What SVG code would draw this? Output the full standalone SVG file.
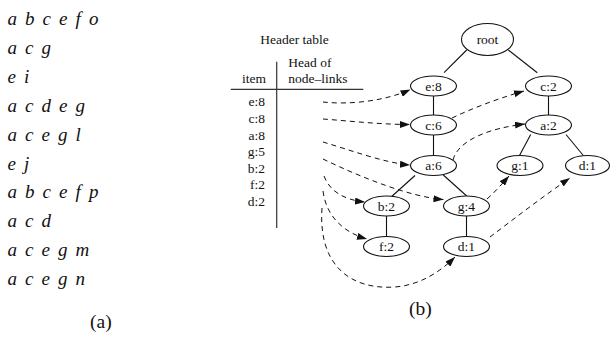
<svg xmlns="http://www.w3.org/2000/svg" width="612" height="345" viewBox="0 0 612 345">
<style>
.tx{font-size:13.5px;fill:#111}
.it{font-style:italic;font-size:19px;word-spacing:3.3px;fill:#111}
.cap{font-size:19.5px;fill:#111}
.nd ellipse{fill:#fff;stroke:#111;stroke-width:1.1}
.nd text{text-anchor:middle}
.ed{stroke:#111;stroke-width:1.1;fill:none}
.dl{stroke:#111;stroke-width:1;fill:none;stroke-dasharray:5,4;marker-end:url(#ah)}
.tl{stroke:#333;stroke-width:1.2}
</style>
<defs>
<marker id="ah" markerUnits="userSpaceOnUse" markerWidth="10" markerHeight="7" refX="10" refY="3.5" orient="auto">
<path d="M0,0 L10,3.5 L0,7 z" fill="#111"/>
</marker>
</defs>
<rect width="612" height="345" fill="#fff"/>
<g font-family="'Liberation Serif', 'Times New Roman', 'DejaVu Serif', serif">
<g id="transactions">
<text class="it" x="7.5" y="25">a b c e f o</text>
<text class="it" x="7.5" y="53.9">a c g</text>
<text class="it" x="7.5" y="82.8">e i</text>
<text class="it" x="7.5" y="111.7">a c d e g</text>
<text class="it" x="7.5" y="140.6">a c e g l</text>
<text class="it" x="7.5" y="169.5">e j</text>
<text class="it" x="7.5" y="198.4">a b c e f p</text>
<text class="it" x="7.5" y="227.3">a c d</text>
<text class="it" x="7.5" y="256.2">a c e g m</text>
<text class="it" x="7.5" y="285">a c e g n</text>
<text class="cap" x="90" y="328">(a)</text>
</g>
<g id="header-table">
<text class="tx" x="294.5" y="44" text-anchor="middle">Header table</text>
<text class="tx" x="288.3" y="66.7">Head of</text>
<text class="tx" x="288.3" y="83.3">node–links</text>
<text class="tx" x="254" y="83.3" text-anchor="middle">item</text>
<line class="tl" x1="276.7" y1="61.7" x2="276.7" y2="228"/>
<line class="tl" x1="230.7" y1="89.3" x2="363.3" y2="89.3"/>
<g text-anchor="end">
<text class="tx" x="265" y="106">e:8</text>
<text class="tx" x="265" y="123">c:8</text>
<text class="tx" x="265" y="139.5">a:8</text>
<text class="tx" x="265" y="156">g:5</text>
<text class="tx" x="265" y="172.5">b:2</text>
<text class="tx" x="265" y="189">f:2</text>
<text class="tx" x="265" y="205.5">d:2</text>
</g>
</g>
<g id="connectors">
<line class="ed" x1="466.7" y1="50" x2="444" y2="72.7"/>
<line class="ed" x1="508.3" y1="50" x2="537.3" y2="72.7"/>
<line class="ed" x1="433.5" y1="96" x2="433.5" y2="115"/>
<line class="ed" x1="548.5" y1="96" x2="548.5" y2="115"/>
<line class="ed" x1="433.5" y1="135" x2="433.5" y2="155.5"/>
<line class="ed" x1="530.7" y1="134.5" x2="519.5" y2="155.5"/>
<line class="ed" x1="566" y1="134.5" x2="583.3" y2="155.5"/>
<line class="ed" x1="415" y1="175.5" x2="391.7" y2="196.5"/>
<line class="ed" x1="443.3" y1="175" x2="466.7" y2="196"/>
<line class="ed" x1="386.5" y1="216" x2="386.5" y2="236.5"/>
<line class="ed" x1="466.5" y1="216" x2="466.5" y2="236.5"/>
<path class="dl" d="M323,102 C350,105 385,101 410.5,89.5"/>
<path class="dl" d="M323,119 C350,121 380,124.5 410,124.5"/>
<path class="dl" d="M323,142 C350,150 385,163 410,165"/>
<path class="dl" d="M323,159 C360,177 410,197 443.5,199.5"/>
<path class="dl" d="M324,176 C330,192 345,200 365,202"/>
<path class="dl" d="M323,191 C326,215 342,232 367,239"/>
<path class="dl" d="M322,208 C318,265 350,290 395,287 C420,285 440,272 455,257"/>
<path class="dl" d="M452,118 C475,107 500,98 524,91"/>
<path class="dl" d="M453,160 C458,140 490,128 525,124"/>
<path class="dl" d="M487,199 C495,192 502,184 509,176"/>
<path class="dl" d="M490,237 C515,218 545,195 570,178"/>
</g>
<g id="root" class="nd"><ellipse cx="487.5" cy="39.5" rx="26" ry="16"/><text class="tx" x="487.5" y="44">root</text></g>
<g id="e8" class="nd"><ellipse cx="433.5" cy="86" rx="23" ry="10"/><text class="tx" x="433.5" y="90.5">e:8</text></g>
<g id="c2" class="nd"><ellipse cx="548.5" cy="86" rx="23" ry="10"/><text class="tx" x="548.5" y="90.5">c:2</text></g>
<g id="c6" class="nd"><ellipse cx="433.5" cy="125" rx="23" ry="10"/><text class="tx" x="433.5" y="129.5">c:6</text></g>
<g id="a2" class="nd"><ellipse cx="548.5" cy="125" rx="23" ry="10"/><text class="tx" x="548.5" y="129.5">a:2</text></g>
<g id="a6" class="nd"><ellipse cx="433.5" cy="165.5" rx="23" ry="10"/><text class="tx" x="433.5" y="170">a:6</text></g>
<g id="g1" class="nd"><ellipse cx="520" cy="165.5" rx="23" ry="10"/><text class="tx" x="520" y="170">g:1</text></g>
<g id="d1r" class="nd"><ellipse cx="587.5" cy="165.5" rx="22" ry="10"/><text class="tx" x="587.5" y="170">d:1</text></g>
<g id="b2" class="nd"><ellipse cx="386.5" cy="206" rx="23" ry="10"/><text class="tx" x="386.5" y="210.5">b:2</text></g>
<g id="g4" class="nd"><ellipse cx="466.5" cy="206" rx="23" ry="10"/><text class="tx" x="466.5" y="210.5">g:4</text></g>
<g id="f2" class="nd"><ellipse cx="386.5" cy="246.5" rx="23" ry="10"/><text class="tx" x="386.5" y="251">f:2</text></g>
<g id="d1b" class="nd"><ellipse cx="466.5" cy="246.5" rx="23" ry="10"/><text class="tx" x="466.5" y="251">d:1</text></g>
<text class="cap" x="409" y="315">(b)</text>
</g>
</svg>
